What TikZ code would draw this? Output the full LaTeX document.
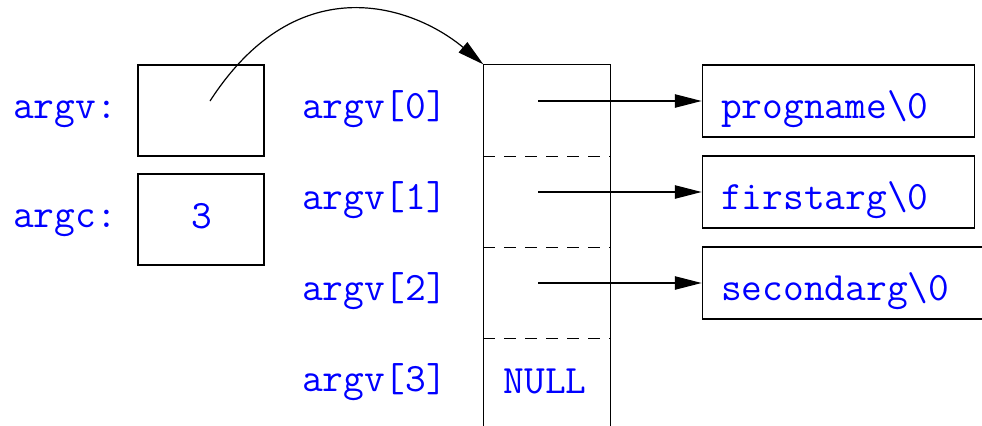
\documentclass[tikz,border=0pt]{standalone}
\usepackage{fontspec}
\usetikzlibrary{arrows.meta}
\usetikzlibrary{calc}
\usetikzlibrary{positioning}

\begin{document}
\begin{tikzpicture}[
  x = 0.75pt, y = -0.75pt,
  line width = 0.9pt,
  > = {Triangle[length=20pt,width=10pt]},
  txt/.style = {font=\ttfamily\fontsize{30.2}{34}\selectfont,text=blue,inner sep=0pt},
  box/.style = {draw,minimum width=94.5pt,minimum height=68.25pt,inner sep=0pt},
  cell/.style = {minimum width=94.5pt,minimum height=68.25pt,inner sep=0pt},
  strbox/.style = {draw,txt,anchor=north west,minimum height=54pt,align=left,
    inner xsep=14.25pt,inner ysep=0pt,text height=31.5pt,text depth=6pt},
  sep/.style = {dashed,dash pattern=on 9pt off 6.75pt}
  ]
  \useasboundingbox (0,0) rectangle (982,425);

  \node[box] (argvbox) at (201,110.5) {};
  \node[box] (argcbox) at (201,219.5) {};
  \node[txt,anchor=base east] (argvlbl) at ($(argvbox.west)+(-20,7.5)$) {argv:};
  \node[txt,anchor=base east] (argclbl) at ($(argcbox.west)+(-20,7.5)$) {argc:};
  \node[txt,anchor=base] (argcval) at ($(argcbox.center)+(1,8.5)$) {3};

  \foreach \i in {0,...,3}
    \node[cell] (cell\i) at (547,110.5+91*\i) {};
  \foreach \i in {0,...,3}
    \node[txt,anchor=base west] (idx\i) at ($(cell\i.west)+(-182,7.5)$) {argv[\i]};
  \node[txt,anchor=base] (null) at ($(cell3.center)+(-2,9.5)$) {NULL};

  \draw (cell3.south west) -- (cell0.north west) -- (cell0.north east) -- (cell3.south east);
  \foreach \i in {0,1,2}
    \draw[sep] (cell\i.south west) -- (cell\i.south east);

  \node[strbox,text width=175.5pt] (prog) at ($(cell0.north east)+(91,0)$) {progname\textbackslash0};
  \node[strbox,text width=175.5pt] (first) at ($(cell1.north east)+(91,0)$) {firstarg\textbackslash0};
  \node[strbox,text width=240pt] (second) at ($(cell2.north east)+(91,0)$) {secondarg\textbackslash0};

  \foreach \i/\s in {0/prog,1/first,2/second}
    \draw[->] ($(cell\i.center)+(-9,-9.5)$) -- (\s.west);

  \coordinate (argvptr) at ($(argvbox.center)+(9,-9.5)$);
  \draw[->] (argvptr) .. controls +(89,-137.5) and +(-68,-57) .. (cell0.north west);
\end{tikzpicture}
\end{document}
